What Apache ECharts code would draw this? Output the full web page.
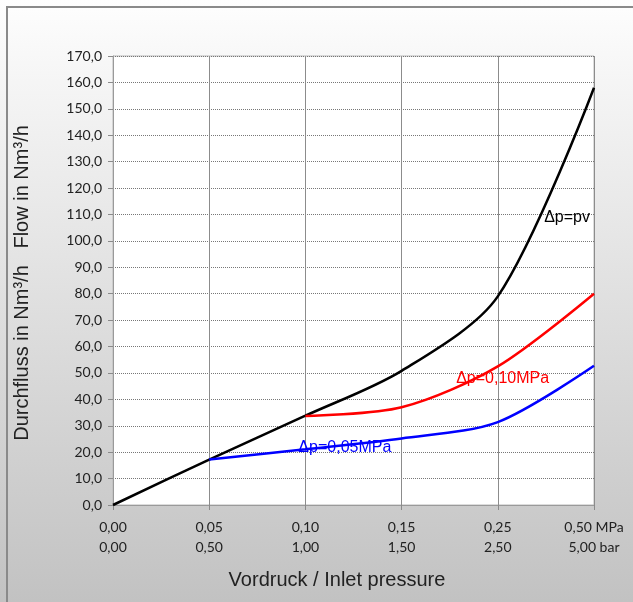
<!DOCTYPE html>
<html>
<head>
<meta charset="utf-8">
<script src="https://cdn.jsdelivr.net/npm/echarts@6/dist/echarts.min.js"></script>
<style>
  body { margin: 0; }
  #wrap { position: relative; width: 633px; height: 602px; background: linear-gradient(to bottom, #fefefe 0%, #f6f6f6 12%, #c2c2c2 100%); }
  #frame { position: absolute; left: 6px; top: 6px; right: 0; bottom: 0; border-top: 2px solid #8a8a8a; border-left: 2px solid #8a8a8a; }
  #flowchart { position: absolute; left: 0; top: 0; width: 633px; height: 602px; }
</style>
</head>
<body>
<div id="wrap"><div id="frame"></div><div id="flowchart"></div></div>
<script>
// Achsbeschriftungen (MPa / bar)
var mpaLabels = ['0,00', '0,05', '0,10', '0,15', '0,25', '0,50 MPa'];
var barLabels = ['0,00', '0,50', '1,00', '1,50', '2,50', '5,00 bar'];

// Kurven: [Index auf der x-Achse, Durchfluss]
var dpPv = [[0, 0], [1, 17.2], [2, 33.8], [3, 50.8], [4, 79.0], [5, 158.0]];
var dp010 = [[2, 33.7], [3, 37.0], [4, 52.5], [5, 80.0]];
var dp005 = [[1, 17.2], [2, 21.1], [3, 25.2], [4, 31.4], [5, 52.7]];

var myChart = echarts.init(document.getElementById('flowchart'));

function curveLabel(text, coord, color) {
    return {
        symbol: 'circle',
        symbolSize: 0,
        silent: true,
        data: [{
            coord: coord,
            label: {
                show: true,
                position: 'inside',
                formatter: text,
                color: color,
                fontFamily: 'Liberation Sans',
                fontSize: 16
            }
        }]
    };
}

var option = {
    backgroundColor: 'transparent',
    animation: false,
    grid: {
        left: 113,
        right: 39,
        top: 56,
        bottom: 97,
        show: true,
        backgroundColor: '#ffffff',
        borderColor: '#b8b8b8',
        borderWidth: 1
    },
    xAxis: {
        type: 'value',
        min: 0,
        max: 5,
        interval: 1,
        axisLine: { lineStyle: { color: '#9a9a9a', width: 1 } },
        axisTick: { show: true, length: 5, lineStyle: { color: '#8a8a8a' } },
        axisLabel: {
            margin: 12,
            lineHeight: 20,
            color: '#222',
            fontFamily: 'Lato',
            fontSize: 14,
            formatter: function (v) { return mpaLabels[v] + '\n' + barLabels[v]; }
        },
        splitLine: { show: true, lineStyle: { color: '#8c8c8c', width: 1, type: 'solid' } }
    },
    yAxis: {
        type: 'value',
        min: 0,
        max: 170,
        interval: 10,
        axisLine: { show: true, lineStyle: { color: '#9a9a9a', width: 1 } },
        axisTick: { show: true, length: 5, lineStyle: { color: '#8a8a8a' } },
        axisLabel: {
            margin: 11,
            color: '#222',
            fontFamily: 'Lato',
            fontSize: 14,
            formatter: function (v) { return v.toFixed(1).replace('.', ','); }
        },
        splitLine: { show: true, lineStyle: { color: '#777', width: 1, type: 'dotted' } }
    },
    graphic: [
        {
            type: 'text',
            x: 22,
            y: 283,
            rotation: Math.PI / 2,
            style: {
                text: 'Durchfluss in Nm³/h   Flow in Nm³/h',
                fill: '#222',
                font: '20px "Liberation Sans"',
                align: 'center',
                verticalAlign: 'middle'
            }
        },
        {
            type: 'text',
            x: 337,
            y: 580,
            style: {
                text: 'Vordruck / Inlet pressure',
                fill: '#222',
                font: '20px "Liberation Sans"',
                align: 'center',
                verticalAlign: 'middle'
            }
        }
    ],
    series: [
        {
            name: 'Δp=pv',
            type: 'line',
            data: dpPv,
            smooth: 0.3,
            showSymbol: false,
            lineStyle: { color: '#000', width: 2.5 },
            markPoint: curveLabel('Δp=pv', [4.72, 108.7], '#000')
        },
        {
            name: 'Δp=0,10MPa',
            type: 'line',
            data: dp010,
            smooth: 0.3,
            showSymbol: false,
            lineStyle: { color: '#ff0000', width: 2.5 },
            markPoint: curveLabel('Δp=0,10MPa', [4.05, 47.7], '#ff0000')
        },
        {
            name: 'Δp=0,05MPa',
            type: 'line',
            data: dp005,
            smooth: 0.3,
            showSymbol: false,
            lineStyle: { color: '#0000ff', width: 2.5 },
            markPoint: curveLabel('Δp=0,05MPa', [2.41, 21.6], '#0000ff')
        }
    ]
};

myChart.setOption(option);
</script>
</body>
</html>
